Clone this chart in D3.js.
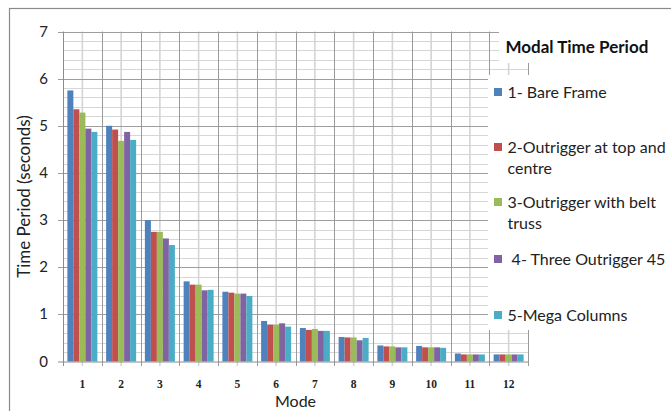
<!DOCTYPE html>
<html><head><meta charset="utf-8">
<script src="https://cdn.jsdelivr.net/npm/d3@7"></script>
<style>body{margin:0;background:#fff;} svg{display:block;font-family:Lato,"Open Sans",sans-serif;}</style>
</head><body>
<svg id="c" width="671" height="411"></svg>
<script>
const categories = ["1","2","3","4","5","6","7","8","9","10","11","12"];
const seriesNames = ["1- Bare Frame","2-Outrigger at top and centre","3-Outrigger with belt truss"," 4- Three Outrigger 45","5-Mega Columns"];
const legendLines = [["1- Bare Frame"],["2-Outrigger at top and","centre"],["3-Outrigger with belt","truss"],[" 4- Three Outrigger 45"],["5-Mega Columns"]];
const bareFrame      = [5.75,5.00,3.00,1.70,1.48,0.86,0.71,0.52,0.34,0.33,0.17,0.15];
const outriggerTop   = [5.35,4.92,2.75,1.63,1.46,0.78,0.67,0.51,0.32,0.30,0.15,0.15];
const beltTruss      = [5.28,4.68,2.75,1.63,1.44,0.78,0.69,0.51,0.32,0.30,0.15,0.15];
const threeOutrigger = [4.94,4.87,2.61,1.51,1.44,0.81,0.65,0.45,0.30,0.30,0.15,0.15];
const megaColumns    = [4.87,4.70,2.47,1.52,1.39,0.74,0.65,0.50,0.30,0.29,0.15,0.15];
const yTicks = [0,1,2,3,4,5,6,7];
const colors = ["#4F81BD","#C0504D","#9BBB59","#8064A2","#4BACC6"];
const title = "Modal Time Period";
const xTitle = "Mode";
const yTitle = "Time Period (seconds)";

const series = [bareFrame,outriggerTop,beltTruss,threeOutrigger,megaColumns];
const svg = d3.select("#c");
const x = d3.scaleBand().domain(categories).range([63,528]).paddingInner(0).paddingOuter(0);
const x1 = d3.scaleBand().domain(d3.range(series.length)).range([0,x.bandwidth()]).paddingInner(0).paddingOuter(0.73);
const y = d3.scaleLinear().domain([0,7]).range([361.5,31.5]);

// outer border
svg.append("rect").attr("x",9.5).attr("y",8.5).attr("width",700).attr("height",450)
  .attr("fill","none").attr("stroke","#8a8a8a").attr("stroke-width",1.2);

const g = svg.append("g");
const minor = d3.range(1,35).map(i=>i*0.2).filter(v=>Math.abs(v-Math.round(v))>1e-6);
g.selectAll(".hmin").data(minor).join("line")
  .attr("x1",63).attr("x2",528).attr("y1",d=>Math.round(y(d))+0.5).attr("y2",d=>Math.round(y(d))+0.5)
  .attr("stroke","#d6d6d6").attr("stroke-width",1);
g.selectAll(".vmin").data(categories).join("line")
  .attr("x1",d=>x(d)+x.bandwidth()/2).attr("x2",d=>x(d)+x.bandwidth()/2)
  .attr("y1",y(7)).attr("y2",366).attr("stroke","#d4d4d4").attr("stroke-width",1.6);
g.selectAll(".hmaj").data(yTicks.slice(1)).join("line")
  .attr("x1",58).attr("x2",528).attr("y1",d=>Math.round(y(d))+0.5).attr("y2",d=>Math.round(y(d))+0.5)
  .attr("stroke","#9e9e9e").attr("stroke-width",1);
const bounds = categories.map(c=>x(c)).concat([x.range()[1]]);
g.selectAll(".vmaj").data(bounds.slice(1)).join("line")
  .attr("x1",d=>Math.round(d)+0.5).attr("x2",d=>Math.round(d)+0.5)
  .attr("y1",y(7)).attr("y2",366).attr("stroke","#9a9a9a").attr("stroke-width",1);

// title & legend boxes (cover gridlines behind them)
g.append("rect").attr("x",499).attr("y",25).attr("width",172).attr("height",38).attr("fill","#fff");
g.append("rect").attr("x",488).attr("y",75).attr("width",183).attr("height",255).attr("fill","#fff");

// bars
series.forEach((vals,si)=>{
  g.selectAll(".b"+si).data(vals).join("rect")
    .attr("x",(d,i)=>x(categories[i])+x1(si))
    .attr("y",d=>y(d))
    .attr("width",x1.bandwidth())
    .attr("height",d=>y(0)-y(d))
    .attr("fill",colors[si]);
});

g.append("line").attr("x1",63.5).attr("x2",63.5).attr("y1",y(7)).attr("y2",366).attr("stroke","#8c8c8c");
g.append("line").attr("x1",58).attr("x2",528).attr("y1",362).attr("y2",362).attr("stroke","#8c8c8c");

g.selectAll(".yl").data(yTicks).join("text")
  .attr("x",48).attr("y",d=>y(d)+5).attr("text-anchor","end")
  .attr("font-size",15).attr("fill","#222").text(d=>d);
g.selectAll(".xl").data(categories).join("text")
  .attr("x",d=>x(d)+x.bandwidth()/2).attr("y",388).attr("text-anchor","middle")
  .attr("font-family","'Liberation Serif',serif").attr("font-weight","bold")
  .attr("font-size",11.5).attr("fill","#222").text(d=>d);

svg.append("text").attr("x",295.5).attr("y",407).attr("text-anchor","middle")
  .attr("font-size",16).attr("fill","#222").text(xTitle);
svg.append("text").attr("transform","translate(30,196.5) rotate(-90)").attr("text-anchor","middle")
  .attr("font-size",17).attr("fill","#222").text(yTitle);

svg.append("text").attr("x",505.5).attr("y",53).attr("font-size",17).attr("font-weight","bold")
  .attr("fill","#111").text(title);

const swY = [88,143,198,255,311];
const lg = svg.append("g");
legendLines.forEach((lines,i)=>{
  lg.append("rect").attr("x",494).attr("y",swY[i]).attr("width",8).attr("height",8).attr("fill",colors[i]);
  const t = lg.append("text").attr("x",507.5).attr("y",swY[i]+9.5).attr("font-size",16).attr("fill","#222")
    .attr("xml:space","preserve").style("white-space","pre");
  lines.forEach((ln,j)=>{
    t.append("tspan").attr("x",507.5).attr("dy",j===0?0:21.5).text(ln);
  });
});
</script>
</body></html>
